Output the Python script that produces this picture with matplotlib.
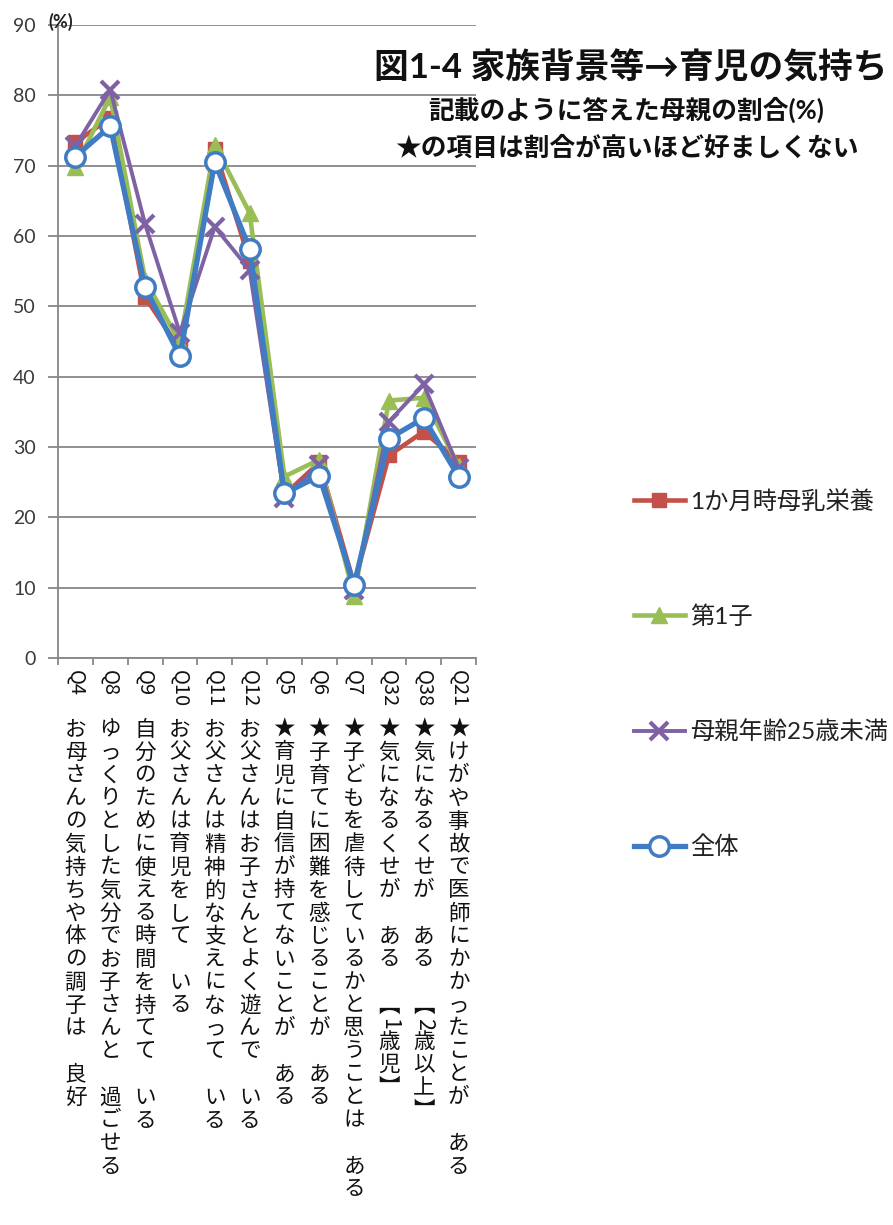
import matplotlib
matplotlib.use("Agg")
import matplotlib.pyplot as plt
import matplotlib.transforms as mtransforms
import numpy as np

plt.rcParams['font.family'] = ['Lato', 'Noto Sans CJK JP', 'DejaVu Sans']

# question ids and their answer texts (vertical labels)
q_ids = ["Q4", "Q8", "Q9", "Q10", "Q11", "Q12", "Q5", "Q6", "Q7", "Q32", "Q38", "Q21"]
q_texts = [
    "お母さんの気持ちや体の調子は　良好",
    "ゆっくりとした気分でお子さんと　過ごせる",
    "自分のために使える時間を持てて　いる",
    "お父さんは育児をして　いる",
    "お父さんは精神的な支えになって　いる",
    "お父さんはお子さんとよく遊んで　いる",
    "★育児に自信が持てないことが　ある",
    "★子育てに困難を感じることが　ある",
    "★子どもを虐待しているかと思うことは　ある",
    "★気になるくせが　ある　【1歳児】",
    "★気になるくせが　ある　【2歳以上】",
    "★けがや事故で医師にかかったことが　ある",
]

# percentages per group
breastfed_1m = [73.3, 76.8, 51.3, 43.9, 72.3, 56.5, 23.2, 27.8, 10.5, 28.8, 32.2, 27.9]
first_child = [69.8, 79.8, 53.8, 44.8, 72.9, 63.3, 25.8, 28.2, 8.8, 36.6, 37.0, 27.3]
mother_u25 = [72.8, 80.8, 61.7, 46.2, 61.3, 55.2, 22.8, 27.4, 9.6, 33.6, 38.9, 27.0]
overall = [71.3, 75.6, 52.7, 42.9, 70.5, 58.2, 23.4, 25.9, 10.4, 31.2, 34.1, 25.8]

series_names = ["1か月時母乳栄養", "第1子", "母親年齢25歳未満", "全体"]

W, H = 893, 1225
fig = plt.figure(figsize=(W / 100, H / 100), dpi=100)
fig.patch.set_facecolor("white")
ax = fig.add_axes([58 / W, 1 - 658 / H, 418 / W, 633 / H])

x = np.arange(len(q_ids))
gray = "#878787"

ax.plot(x, breastfed_1m, color="#C4504A", lw=3.3, marker="s", ms=10.5,
        mfc="#C4504A", mec="#C4504A", label=series_names[0], zorder=3)
ax.plot(x, first_child, color="#98BE55", lw=3.3, marker="^", ms=11.5,
        mfc="#98BE55", mec="#98BE55", label=series_names[1], zorder=4)
ax.plot(x, mother_u25, color="#7E62A4", lw=2.8, marker="x", ms=13, mew=3,
        label=series_names[2], zorder=5)
ax.plot(x, overall, color="#3F7CC4", lw=3.8, marker="o", ms=14,
        mfc="white", mec="#3F7CC4", mew=2.5, label=series_names[3], zorder=6)

ax.set_xlim(-0.5, len(q_ids) - 0.5)
ax.set_ylim(0, 90)
ax.set_yticks(np.arange(0, 91, 10))
ax.set_xticks(np.arange(-0.5, len(q_ids), 1))
ax.set_xticklabels([])
ax.grid(axis="y", color=gray, lw=1.3)
ax.set_axisbelow(True)
for side in ("top", "right"):
    ax.spines[side].set_visible(False)
for side in ("left", "bottom"):
    ax.spines[side].set_color(gray)
    ax.spines[side].set_linewidth(1.3)
ax.tick_params(axis="y", length=7, width=1.3, color=gray, pad=9,
               labelsize=14, labelcolor="#3a3a3a")
ax.tick_params(axis="x", length=5, width=1.3, color=gray)

fig.text(61 / W, 1 - 22 / H, "(%)", fontsize=13, fontweight="bold",
         color="#222222", ha="center", va="center")

# vertical category labels, one glyph at a time
tr = mtransforms.blended_transform_factory(ax.transData, fig.transFigure)
vert_forms = {"【": "\ufe3b", "】": "\ufe3c"}
pitch = 23.0
for i, (qid, txt) in enumerate(zip(q_ids, q_texts)):
    fig.text(i, 1 - 670 / H, qid, transform=tr, rotation=-90, ha="center",
             va="top", fontsize=14.5, family="Noto Sans CJK JP", color="#111111")
    y = 718.0
    for ch in txt:
        if ch.isascii():
            step, rot = 0.6 * pitch, -90
        else:
            step, rot = pitch, 0
        ch = vert_forms.get(ch, ch)
        if ch != "　":
            fig.text(i, 1 - (y + step / 2) / H, ch, transform=tr, rotation=rot,
                     ha="center", va="center", fontsize=15.5,
                     family="Noto Sans CJK JP", color="#111111")
        y += step

# titles
fig.text(631 / W, 1 - 68 / H, "図1-4 家族背景等→育児の気持ち", fontsize=25,
         fontweight="bold", ha="center", va="center", color="#111111")
fig.text(626 / W, 1 - 110 / H, "記載のように答えた母親の割合(%)", fontsize=18.5,
         fontweight="bold", ha="center", va="center", color="#111111")
fig.text(627 / W, 1 - 148 / H, "★の項目は割合が高いほど好ましくない", fontsize=18.5,
         fontweight="bold", ha="center", va="center", color="#111111")

leg = ax.legend(loc="upper left", bbox_to_anchor=(612 / W, 1 - 468 / H),
                bbox_transform=fig.transFigure, frameon=False,
                handlelength=2.1, handletextpad=0.2, labelspacing=3.8,
                prop={"family": ["Lato", "Noto Sans CJK JP"], "size": 17.5})
for t in leg.get_texts():
    t.set_color("#222222")

fig.savefig("out.png", dpi=100, facecolor="white")
